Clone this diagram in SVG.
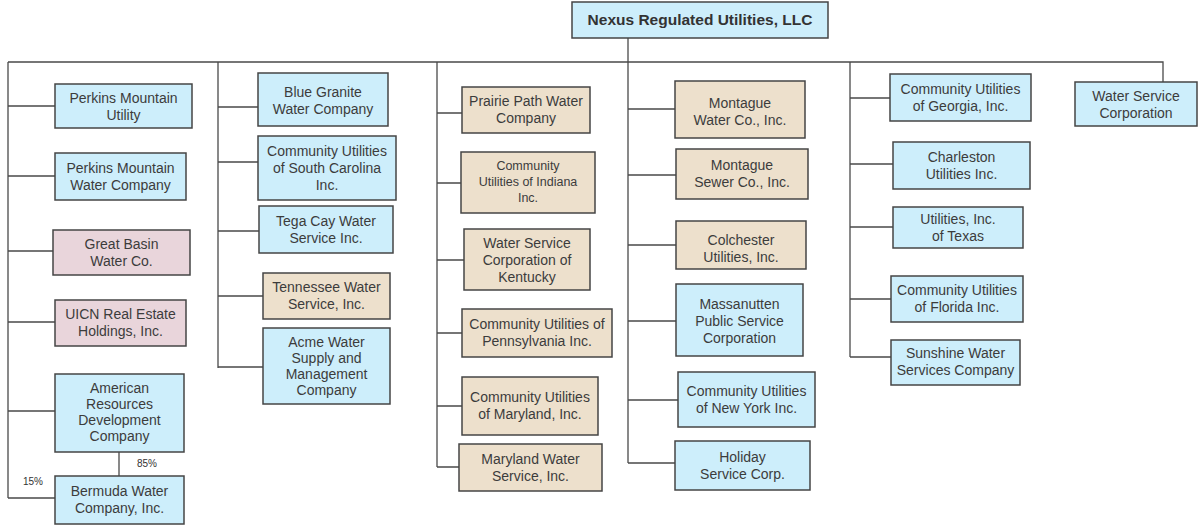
<svg xmlns="http://www.w3.org/2000/svg" width="1199" height="529" viewBox="0 0 1199 529">
  <style>
    .box { stroke: #454545; stroke-width: 1.5; }
    .blue { fill: #cdeefb; }
    .tan { fill: #ede0cc; }
    .pink { fill: #e9d5db; }
    .lbl { font-family: "Liberation Sans", Arial, sans-serif; font-size: 14px; fill: #3c3c3c; text-anchor: middle; }
    .small { font-size: 12.5px; }
    .title { font-family: "Liberation Sans", Arial, sans-serif; font-size: 15.5px; font-weight: bold; fill: #333; text-anchor: middle; }
    .pct { font-family: "Liberation Sans", Arial, sans-serif; font-size: 10px; fill: #333; }
    .wire { stroke: #4a4a4a; stroke-width: 1.3; fill: none; }
  </style>
  <rect width="1199" height="529" fill="#ffffff"/>

  <!-- connectors -->
  <g id="connectors" class="wire">
    <path d="M628 38V62"/>
    <path d="M8 62H1163V82"/>
    <!-- column 1 -->
    <path d="M8 62V498"/>
    <path d="M8 106H55M8 176H55M8 251H53M8 322H55M8 411H55M8 498H55"/>
    <path d="M119 452V476"/>
    <!-- column 2 -->
    <path d="M218 62V368"/>
    <path d="M218 107H258M218 162H258M218 231H259M218 296H263M218 367H263"/>
    <!-- column 3 -->
    <path d="M437 62V467"/>
    <path d="M437 113H462M437 183H461M437 260H464M437 333H462M437 406H462M437 467H459"/>
    <!-- column 4 -->
    <path d="M628 62V463"/>
    <path d="M628 109H675M628 175H676M628 245H676M628 321H676M628 400H678M628 463H675"/>
    <!-- column 5 -->
    <path d="M850 62V357"/>
    <path d="M850 98H890M850 164H893M850 227H893M850 299H891M850 357H891"/>
  </g>

  <g id="nexus">
    <rect class="box blue" x="572" y="2" width="256" height="36"/>
    <text class="title" x="700" y="25">Nexus Regulated Utilities, LLC</text>
  </g>

  <!-- column 1 -->
  <g id="perkins-utility">
    <rect class="box blue" x="55" y="84" width="137" height="44"/>
    <text class="lbl" x="123.5" y="103">Perkins Mountain</text>
    <text class="lbl" x="123.5" y="120">Utility</text>
  </g>
  <g id="perkins-water">
    <rect class="box blue" x="55" y="153" width="131" height="47"/>
    <text class="lbl" x="120.5" y="173">Perkins Mountain</text>
    <text class="lbl" x="120.5" y="190">Water Company</text>
  </g>
  <g id="great-basin">
    <rect class="box pink" x="53" y="230" width="137" height="45"/>
    <text class="lbl" x="121.5" y="249">Great Basin</text>
    <text class="lbl" x="121.5" y="266">Water Co.</text>
  </g>
  <g id="uicn">
    <rect class="box pink" x="55" y="300" width="131" height="46"/>
    <text class="lbl" x="120.5" y="319">UICN Real Estate</text>
    <text class="lbl" x="120.5" y="336">Holdings, Inc.</text>
  </g>
  <g id="american-resources">
    <rect class="box blue" x="55" y="374" width="129" height="78"/>
    <text class="lbl" x="119.5" y="393">American</text>
    <text class="lbl" x="119.5" y="409">Resources</text>
    <text class="lbl" x="119.5" y="425">Development</text>
    <text class="lbl" x="119.5" y="441">Company</text>
  </g>
  <g id="bermuda">
    <rect class="box blue" x="55" y="476" width="129" height="48"/>
    <text class="lbl" x="119.5" y="496">Bermuda Water</text>
    <text class="lbl" x="119.5" y="513">Company, Inc.</text>
  </g>
  <text class="pct" x="23" y="485">15%</text>
  <text class="pct" x="137" y="467">85%</text>

  <!-- column 2 -->
  <g id="blue-granite">
    <rect class="box blue" x="258" y="73" width="130" height="53"/>
    <text class="lbl" x="323" y="97">Blue Granite</text>
    <text class="lbl" x="323" y="114">Water Company</text>
  </g>
  <g id="cu-south-carolina">
    <rect class="box blue" x="258" y="136" width="138" height="64"/>
    <text class="lbl" x="327" y="156">Community Utilities</text>
    <text class="lbl" x="327" y="173">of South Carolina</text>
    <text class="lbl" x="327" y="190">Inc.</text>
  </g>
  <g id="tega-cay">
    <rect class="box blue" x="259" y="206" width="134" height="47"/>
    <text class="lbl" x="326" y="226">Tega Cay Water</text>
    <text class="lbl" x="326" y="243">Service Inc.</text>
  </g>
  <g id="tennessee">
    <rect class="box tan" x="263" y="273" width="127" height="46"/>
    <text class="lbl" x="326.5" y="292">Tennessee Water</text>
    <text class="lbl" x="326.5" y="309">Service, Inc.</text>
  </g>
  <g id="acme">
    <rect class="box blue" x="263" y="328" width="127" height="76"/>
    <text class="lbl" x="326.5" y="347">Acme Water</text>
    <text class="lbl" x="326.5" y="363">Supply and</text>
    <text class="lbl" x="326.5" y="379">Management</text>
    <text class="lbl" x="326.5" y="395">Company</text>
  </g>

  <!-- column 3 -->
  <g id="prairie-path">
    <rect class="box tan" x="462" y="87" width="128" height="46"/>
    <text class="lbl" x="526" y="106">Prairie Path Water</text>
    <text class="lbl" x="526" y="123">Company</text>
  </g>
  <g id="cu-indiana">
    <rect class="box tan" x="461" y="152" width="134" height="61"/>
    <text class="lbl small" x="528" y="170">Community</text>
    <text class="lbl small" x="528" y="186">Utilities of Indiana</text>
    <text class="lbl small" x="528" y="202">Inc.</text>
  </g>
  <g id="ws-kentucky">
    <rect class="box tan" x="464" y="229" width="126" height="61"/>
    <text class="lbl" x="527" y="248">Water Service</text>
    <text class="lbl" x="527" y="265">Corporation of</text>
    <text class="lbl" x="527" y="282">Kentucky</text>
  </g>
  <g id="cu-pennsylvania">
    <rect class="box tan" x="462" y="309" width="150" height="48"/>
    <text class="lbl" x="537" y="329">Community Utilities of</text>
    <text class="lbl" x="537" y="346">Pennsylvania Inc.</text>
  </g>
  <g id="cu-maryland">
    <rect class="box tan" x="462" y="377" width="136" height="58"/>
    <text class="lbl" x="530" y="402">Community Utilities</text>
    <text class="lbl" x="530" y="419">of Maryland, Inc.</text>
  </g>
  <g id="maryland-water">
    <rect class="box tan" x="459" y="444" width="143" height="47"/>
    <text class="lbl" x="530.5" y="464">Maryland Water</text>
    <text class="lbl" x="530.5" y="481">Service, Inc.</text>
  </g>

  <!-- column 4 -->
  <g id="montague-water">
    <rect class="box tan" x="675" y="81" width="130" height="57"/>
    <text class="lbl" x="740" y="108">Montague</text>
    <text class="lbl" x="740" y="125">Water Co., Inc.</text>
  </g>
  <g id="montague-sewer">
    <rect class="box tan" x="676" y="149" width="132" height="50"/>
    <text class="lbl" x="742" y="170">Montague</text>
    <text class="lbl" x="742" y="187">Sewer Co., Inc.</text>
  </g>
  <g id="colchester">
    <rect class="box tan" x="676" y="221" width="130" height="48"/>
    <text class="lbl" x="741" y="245">Colchester</text>
    <text class="lbl" x="741" y="262">Utilities, Inc.</text>
  </g>
  <g id="massanutten">
    <rect class="box blue" x="676" y="284" width="127" height="72"/>
    <text class="lbl" x="739.5" y="309">Massanutten</text>
    <text class="lbl" x="739.5" y="326">Public Service</text>
    <text class="lbl" x="739.5" y="343">Corporation</text>
  </g>
  <g id="cu-new-york">
    <rect class="box blue" x="678" y="372" width="137" height="55"/>
    <text class="lbl" x="746.5" y="396">Community Utilities</text>
    <text class="lbl" x="746.5" y="413">of New York Inc.</text>
  </g>
  <g id="holiday">
    <rect class="box blue" x="675" y="441" width="135" height="49"/>
    <text class="lbl" x="742.5" y="462">Holiday</text>
    <text class="lbl" x="742.5" y="479">Service Corp.</text>
  </g>

  <!-- column 5 -->
  <g id="cu-georgia">
    <rect class="box blue" x="890" y="74" width="141" height="47"/>
    <text class="lbl" x="960.5" y="94">Community Utilities</text>
    <text class="lbl" x="960.5" y="111">of Georgia, Inc.</text>
  </g>
  <g id="charleston">
    <rect class="box blue" x="893" y="142" width="137" height="47"/>
    <text class="lbl" x="961.5" y="162">Charleston</text>
    <text class="lbl" x="961.5" y="179">Utilities Inc.</text>
  </g>
  <g id="ui-texas">
    <rect class="box blue" x="893" y="207" width="130" height="41"/>
    <text class="lbl" x="958" y="224">Utilities, Inc.</text>
    <text class="lbl" x="958" y="241">of Texas</text>
  </g>
  <g id="cu-florida">
    <rect class="box blue" x="891" y="276" width="132" height="46"/>
    <text class="lbl" x="957" y="295">Community Utilities</text>
    <text class="lbl" x="957" y="312">of Florida Inc.</text>
  </g>
  <g id="sunshine">
    <rect class="box blue" x="891" y="340" width="129" height="45"/>
    <text class="lbl" x="955.5" y="358">Sunshine Water</text>
    <text class="lbl" x="955.5" y="375">Services Company</text>
  </g>

  <!-- column 6 -->
  <g id="water-service-corp">
    <rect class="box blue" x="1075" y="82" width="122" height="44"/>
    <text class="lbl" x="1136" y="101">Water Service</text>
    <text class="lbl" x="1136" y="118">Corporation</text>
  </g>
</svg>
